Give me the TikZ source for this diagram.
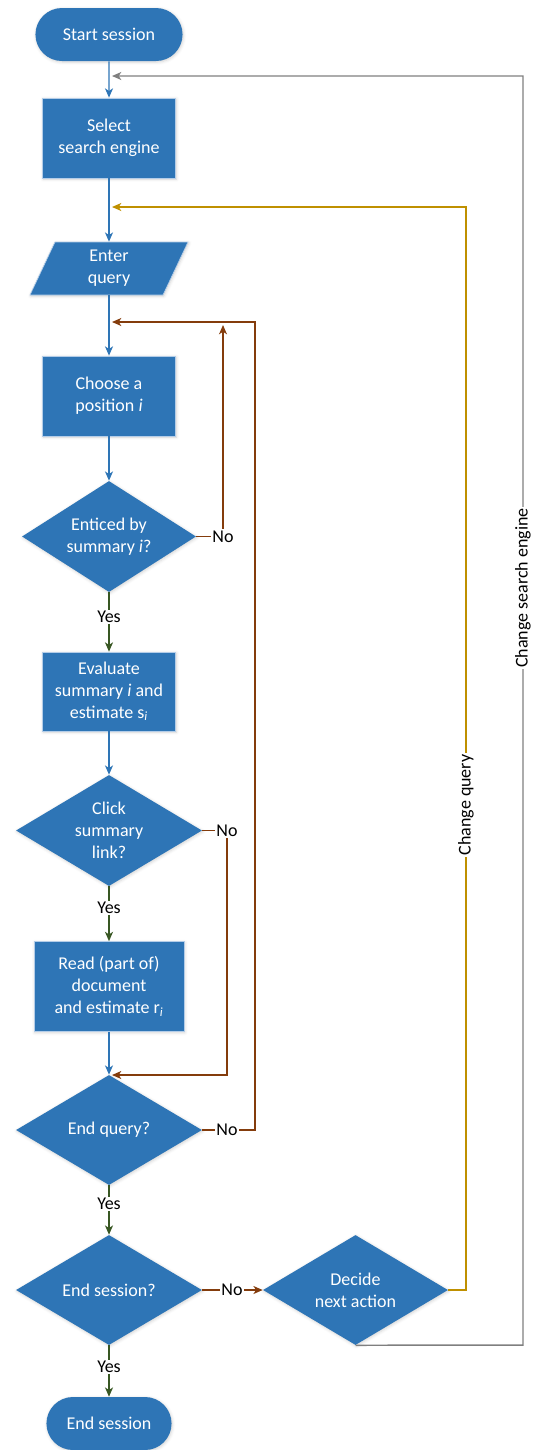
\documentclass[tikz,border=0pt]{standalone}
\usepackage{fontspec}
\setmainfont{Carlito}
\usetikzlibrary{shapes.geometric,shapes.misc,arrows.meta,shadows.blur}
\definecolor{boxblue}{HTML}{2E75B6}
\definecolor{boxedge}{HTML}{B4CDE8}
\definecolor{lnblue}{HTML}{2E75B6}
\definecolor{lnbrown}{HTML}{843C0C}
\definecolor{lngreen}{HTML}{385723}
\definecolor{lngold}{HTML}{BF9000}
\definecolor{lngray}{HTML}{7F7F7F}
\tikzset{
  txt/.style={font=\fontsize{13.5}{16.3}\selectfont, align=center},
  shad/.style={blur shadow={shadow xshift=0.6pt,shadow yshift=-0.8pt,shadow blur radius=2.2pt,shadow opacity=18}},
  procbox/.style={txt, rectangle, fill=boxblue, draw=boxedge, line width=0.5pt, text=white, shad},
  termbox/.style={txt, rounded rectangle, fill=boxblue, draw=none, text=white, shad},
  decbox/.style={txt, diamond, aspect=1.68, fill=boxblue, draw=none, text=white, inner sep=0pt, shad},
  lbl/.style={txt, fill=white, inner sep=1pt, text=black},
  arr/.style={-{Stealth[length=7pt,width=6pt,inset=2pt]}},
  cblue/.style={draw=lnblue, line width=1.1pt},
  cbrown/.style={draw=lnbrown, line width=1.1pt},
  cgreen/.style={draw=lngreen, line width=1.1pt},
  cgold/.style={draw=lngold, line width=1.1pt},
  cgray/.style={draw=lngray, line width=1.1pt},
}
\begin{document}
\begin{tikzpicture}[x=0.75pt,y=-0.75pt]
\useasboundingbox (0,0) rectangle (542,1450);

% nodes
\node[termbox, minimum width=117pt, minimum height=39.75pt] (start) at (109,34.5) {Start session};
\node[procbox, minimum width=99.75pt, minimum height=60pt] (select) at (109,138) {Select\\search engine};
\fill[boxblue, draw=boxedge, line width=0.5pt, shad] (55,242) -- (188,242) -- (163,295) -- (30,295) -- cycle;
\node[txt, text=white, minimum width=100pt, minimum height=39.75pt, inner sep=0pt] (enter) at (109,268.5) {Enter\\query};
\node[procbox, minimum width=99.75pt, minimum height=60pt] (choose) at (109,396) {Choose a\\position \textit{i}};
\node[decbox, minimum width=130.5pt, minimum height=83.25pt] (entice) at (109,536.5) {Enticed by\\summary \textit{i}?};
\node[procbox, minimum width=99.75pt, minimum height=59.25pt] (eval) at (109,691.5) {Evaluate\\summary \textit{i} and\\estimate s\textsubscript{\textit{i}}};
\node[decbox, minimum width=139.5pt, minimum height=83.25pt] (click) at (109,830.5) {Click\\summary\\link?};
\node[procbox, minimum width=112.5pt, minimum height=67.5pt] (read) at (109,986.5) {Read (part of)\\document\\and estimate r\textsubscript{\textit{i}}};
\node[decbox, minimum width=139.5pt, minimum height=82.5pt] (endq) at (109,1130) {End query?};
\node[decbox, minimum width=139.5pt, minimum height=82.5pt] (endsess) at (109,1290) {End session?};
\node[decbox, minimum width=138.75pt, minimum height=82.5pt] (decide) at (355.5,1290) {Decide\\next action};
\node[termbox, minimum width=100.5pt, minimum height=39.75pt] (end) at (109,1423.5) {End session};

% junction points on the main axis
\coordinate (jse) at (112,76);
\coordinate (jq) at (112,207);
\coordinate (jb) at (112,322);
\coordinate (jc) at (112,1075);

% main flow
\draw[cblue,arr] (start) -- (select);
\draw[cblue,arr] (select) -- (enter);
\draw[cblue,arr] (enter) -- (choose);
\draw[cblue,arr] (choose) -- (entice);
\draw[cblue,arr] (eval) -- (click);
\draw[cblue,arr] (read) -- (endq);

% yes branches
\draw[cgreen,arr] (entice.south) -- (109,617) node[lbl]{Yes} -- (eval.north);
\draw[cgreen,arr] (click.south) -- (109,908) node[lbl]{Yes} -- (read.north);
\draw[cgreen,arr] (endq.south) -- (109,1204) node[lbl]{Yes} -- (endsess.north);
\draw[cgreen,arr] (endsess.south) -- (109,1367) node[lbl]{Yes} -- (end.north);

% no branches
\draw[cbrown,arr] (entice.east) -- (223,536.5) node[lbl]{No} -- (223,325);
\draw[cbrown,arr] (click.east) -- (227,830.5) node[lbl]{No} -- (227,1075) -- (jc);
\draw[cbrown,arr] (endq.east) -- (227,1130) node[lbl]{No} -- (255,1130) -- (255,322) -- (jb);
\draw[cbrown,arr] (endsess.east) -- (232,1290) node[lbl]{No} -- (decide.west);

% decide branches
\draw[cgold,arr] (decide.east) -- (466,1290) -- (466,805) node[lbl,rotate=90]{Change query} -- (466,207) -- (jq);
\draw[cgray,arr] (decide.south) -- (523,1345) -- (523,588) node[lbl,rotate=90]{Change search engine} -- (523,76) -- (jse);
\end{tikzpicture}
\end{document}
